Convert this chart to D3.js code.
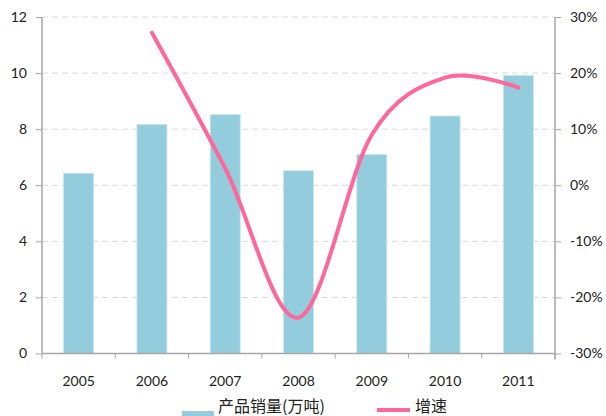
<!DOCTYPE html>
<meta charset="utf-8">
<script src="https://d3js.org/d3.v7.min.js"></script>
<style>
  body { margin: 0; background: #fff; }
  .tick text { font-family: Lato, "Open Sans", sans-serif; font-size: 14px; fill: #222; }
  .legend text { font-family: "Noto Sans CJK SC", sans-serif; font-size: 16px; fill: #222; }
</style>
<div id="chart"></div>
<script>
// chart values
var years = ["2005", "2006", "2007", "2008", "2009", "2010", "2011"];
var sales = [6.43, 8.17, 8.52, 6.52, 7.1, 8.47, 9.92];      // 产品销量(万吨)
var growth = [null, 27.2, 3.0, -23.6, 9.0, 19.2, 17.4];     // 增速 %
var leftTicks = [0, 2, 4, 6, 8, 10, 12];
var rightTicks = [-30, -20, -10, 0, 10, 20, 30];

var margin = {top: 17, right: 51, bottom: 62.5, left: 42},
    width = 606 - margin.left - margin.right,
    height = 416 - margin.top - margin.bottom;

var svg = d3.select("#chart")
  .append("svg")
  .attr("width", 606)
  .attr("height", 416)
  .append("g")
  .attr("transform", "translate(" + margin.left + "," + margin.top + ")");

var x = d3.scaleBand().domain(years).range([0, width]).padding(0);
var y = d3.scaleLinear().domain([0, 12]).range([height, 0]);
var y2 = d3.scaleLinear().domain([-30, 30]).range([height, 0]);

// gridlines
svg.append("g")
  .selectAll("line")
  .data(leftTicks.slice(1))
  .enter()
  .append("line")
  .attr("x1", 0)
  .attr("x2", width)
  .attr("y1", function (d) { return y(d); })
  .attr("y2", function (d) { return y(d); })
  .attr("stroke", "#d9d9d9")
  .attr("stroke-width", 1)
  .attr("stroke-dasharray", "6,4");

// bars
var bw = x.step() * 0.41;
svg.append("g")
  .selectAll("rect")
  .data(sales)
  .enter()
  .append("rect")
  .attr("x", function (d, i) { return x(years[i]) + (x.step() - bw) / 2; })
  .attr("y", function (d) { return y(d); })
  .attr("width", bw)
  .attr("height", function (d) { return height - y(d); })
  .attr("fill", "#93cddd")
  .attr("stroke", "#c9e7ef")
  .attr("stroke-width", 0.8);

// axes
var axisColor = "#a6a6a6";

var left = svg.append("g")
  .call(d3.axisLeft(y).tickValues(leftTicks).tickSize(6).tickPadding(9));
var right = svg.append("g")
  .attr("transform", "translate(" + width + ",0)")
  .call(d3.axisRight(y2).tickValues(rightTicks).tickSize(6).tickPadding(9)
    .tickFormat(function (d) { return d + "%"; }));
var bottom = svg.append("g")
  .attr("transform", "translate(0," + height + ")")
  .call(d3.axisBottom(x).tickSize(0).tickPadding(23));

// category boundary ticks
bottom.append("g")
  .selectAll("line")
  .data(d3.range(years.length + 1))
  .enter()
  .append("line")
  .attr("x1", function (i) { return i * x.step(); })
  .attr("x2", function (i) { return i * x.step(); })
  .attr("y1", 0)
  .attr("y2", 5)
  .attr("stroke", axisColor);

[left, right, bottom].forEach(function (g) {
  g.select(".domain").attr("stroke", axisColor).attr("stroke-width", 1.5);
  g.selectAll(".tick line").attr("stroke", axisColor);
});
left.select(".domain").attr("d", "M0,0V" + height);
right.select(".domain").attr("d", "M0,0V" + (height + 6));
bottom.select(".domain").attr("d", "M0,0H" + width);

// growth line (smoothed like the spreadsheet)
var pts = [];
growth.forEach(function (d, i) {
  if (d !== null) pts.push([x(years[i]) + x.step() / 2, y2(d)]);
});
svg.append("path")
  .datum(pts)
  .attr("fill", "none")
  .attr("stroke", "#ff6699")
  .attr("stroke-width", 4)
  .attr("stroke-linecap", "round")
  .attr("d", d3.line().curve(d3.curveCardinal.tension(0)));

// legend
var legend = d3.select("svg").append("g").attr("class", "legend");
legend.append("rect")
  .attr("x", 182).attr("y", 411)
  .attr("width", 32).attr("height", 6)
  .attr("fill", "#93cddd");
legend.append("text")
  .attr("x", 218).attr("y", 412)
  .text("产品销量(万吨)");
legend.append("line")
  .attr("x1", 377).attr("x2", 410)
  .attr("y1", 410).attr("y2", 410)
  .attr("stroke", "#ff6699")
  .attr("stroke-width", 4);
legend.append("text")
  .attr("x", 415).attr("y", 412)
  .text("增速");
</script>
